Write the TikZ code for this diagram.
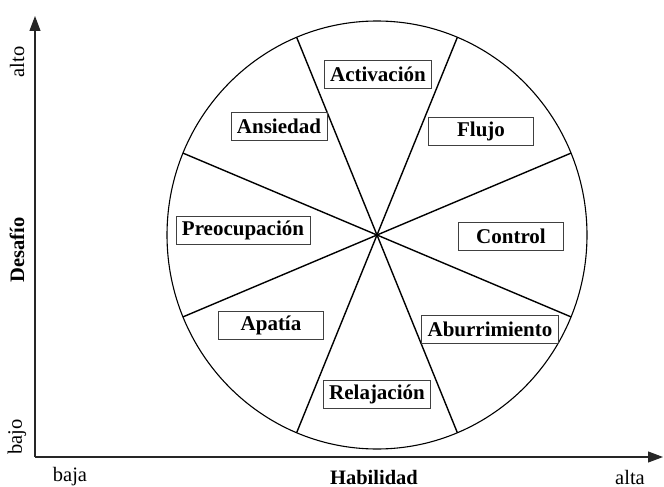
\documentclass[tikz,border=0pt]{standalone}
\usepackage{fontspec}
\setmainfont{Liberation Serif}
\usetikzlibrary{arrows.meta, calc, positioning}
\tikzset{
    etiqueta/.style={draw=black!75, line width=0.7pt, inner xsep=6pt, inner ysep=3pt,
        minimum width=105pt, minimum height=28pt, font=\fontsize{21}{23}\selectfont\bfseries},
    rotulo/.style={font=\fontsize{20.5}{22}\selectfont},
    titulo/.style={font=\fontsize{20.5}{22}\selectfont\bfseries},
    eje/.style={line width=1.1pt, black!85, -{Triangle[length=15pt, width=11pt]}},
    radio/.style={line width=1.4pt}
}

\begin{document}
\begin{tikzpicture}[x=1pt, y=-1pt]
    \useasboundingbox (0, 0) rectangle (664, 487);
    % ejes
    \coordinate (origen) at (35, 457);
    \coordinate (tope) at (35, 16);
    \coordinate (fin) at (663, 457);
    \draw[eje] (origen) -- (tope);
    \draw[eje] (origen) -- (fin);
    \node[rotulo, rotate=90] (alto) at (17, 62) {alto};
    \node[titulo, rotate=90] (desafio) at (17, 250) {Desafío};
    \node[rotulo, rotate=90] (bajo) at (17, 437) {bajo};
    \node[rotulo] (baja) at (70, 477) {baja};
    \node[titulo] (habilidad) at (374, 477) {Habilidad};
    \node[rotulo] (alta) at (630, 477) {alta};
    % circulo
    \coordinate (centro) at (377, 235);
    \draw[line width=1.1pt] (centro) ellipse [x radius=210, y radius=214];
    \foreach \a in {22.5, 67.5, 112.5, 157.5}
        \draw[radio, shift={(centro)}] (\a:210 and 214) -- (\a+180:210 and 214);
    % estados
    \node[etiqueta] (activacion) at (378, 74) {Activación};
    \node[etiqueta, minimum width=93pt] (ansiedad) at (279, 126) {Ansiedad};
    \node[etiqueta] (flujo) at (481, 131) {Flujo};
    \node[etiqueta] (preocupacion) at (243, 230) {Preocupación};
    \node[etiqueta] (control) at (511, 236) {Control};
    \node[etiqueta] (apatia) at (271, 325) {Apatía};
    \node[etiqueta] (aburrimiento) at (490, 329) {Aburrimiento};
    \node[etiqueta] (relajacion) at (377, 394) {Relajación};
\end{tikzpicture}
\end{document}
